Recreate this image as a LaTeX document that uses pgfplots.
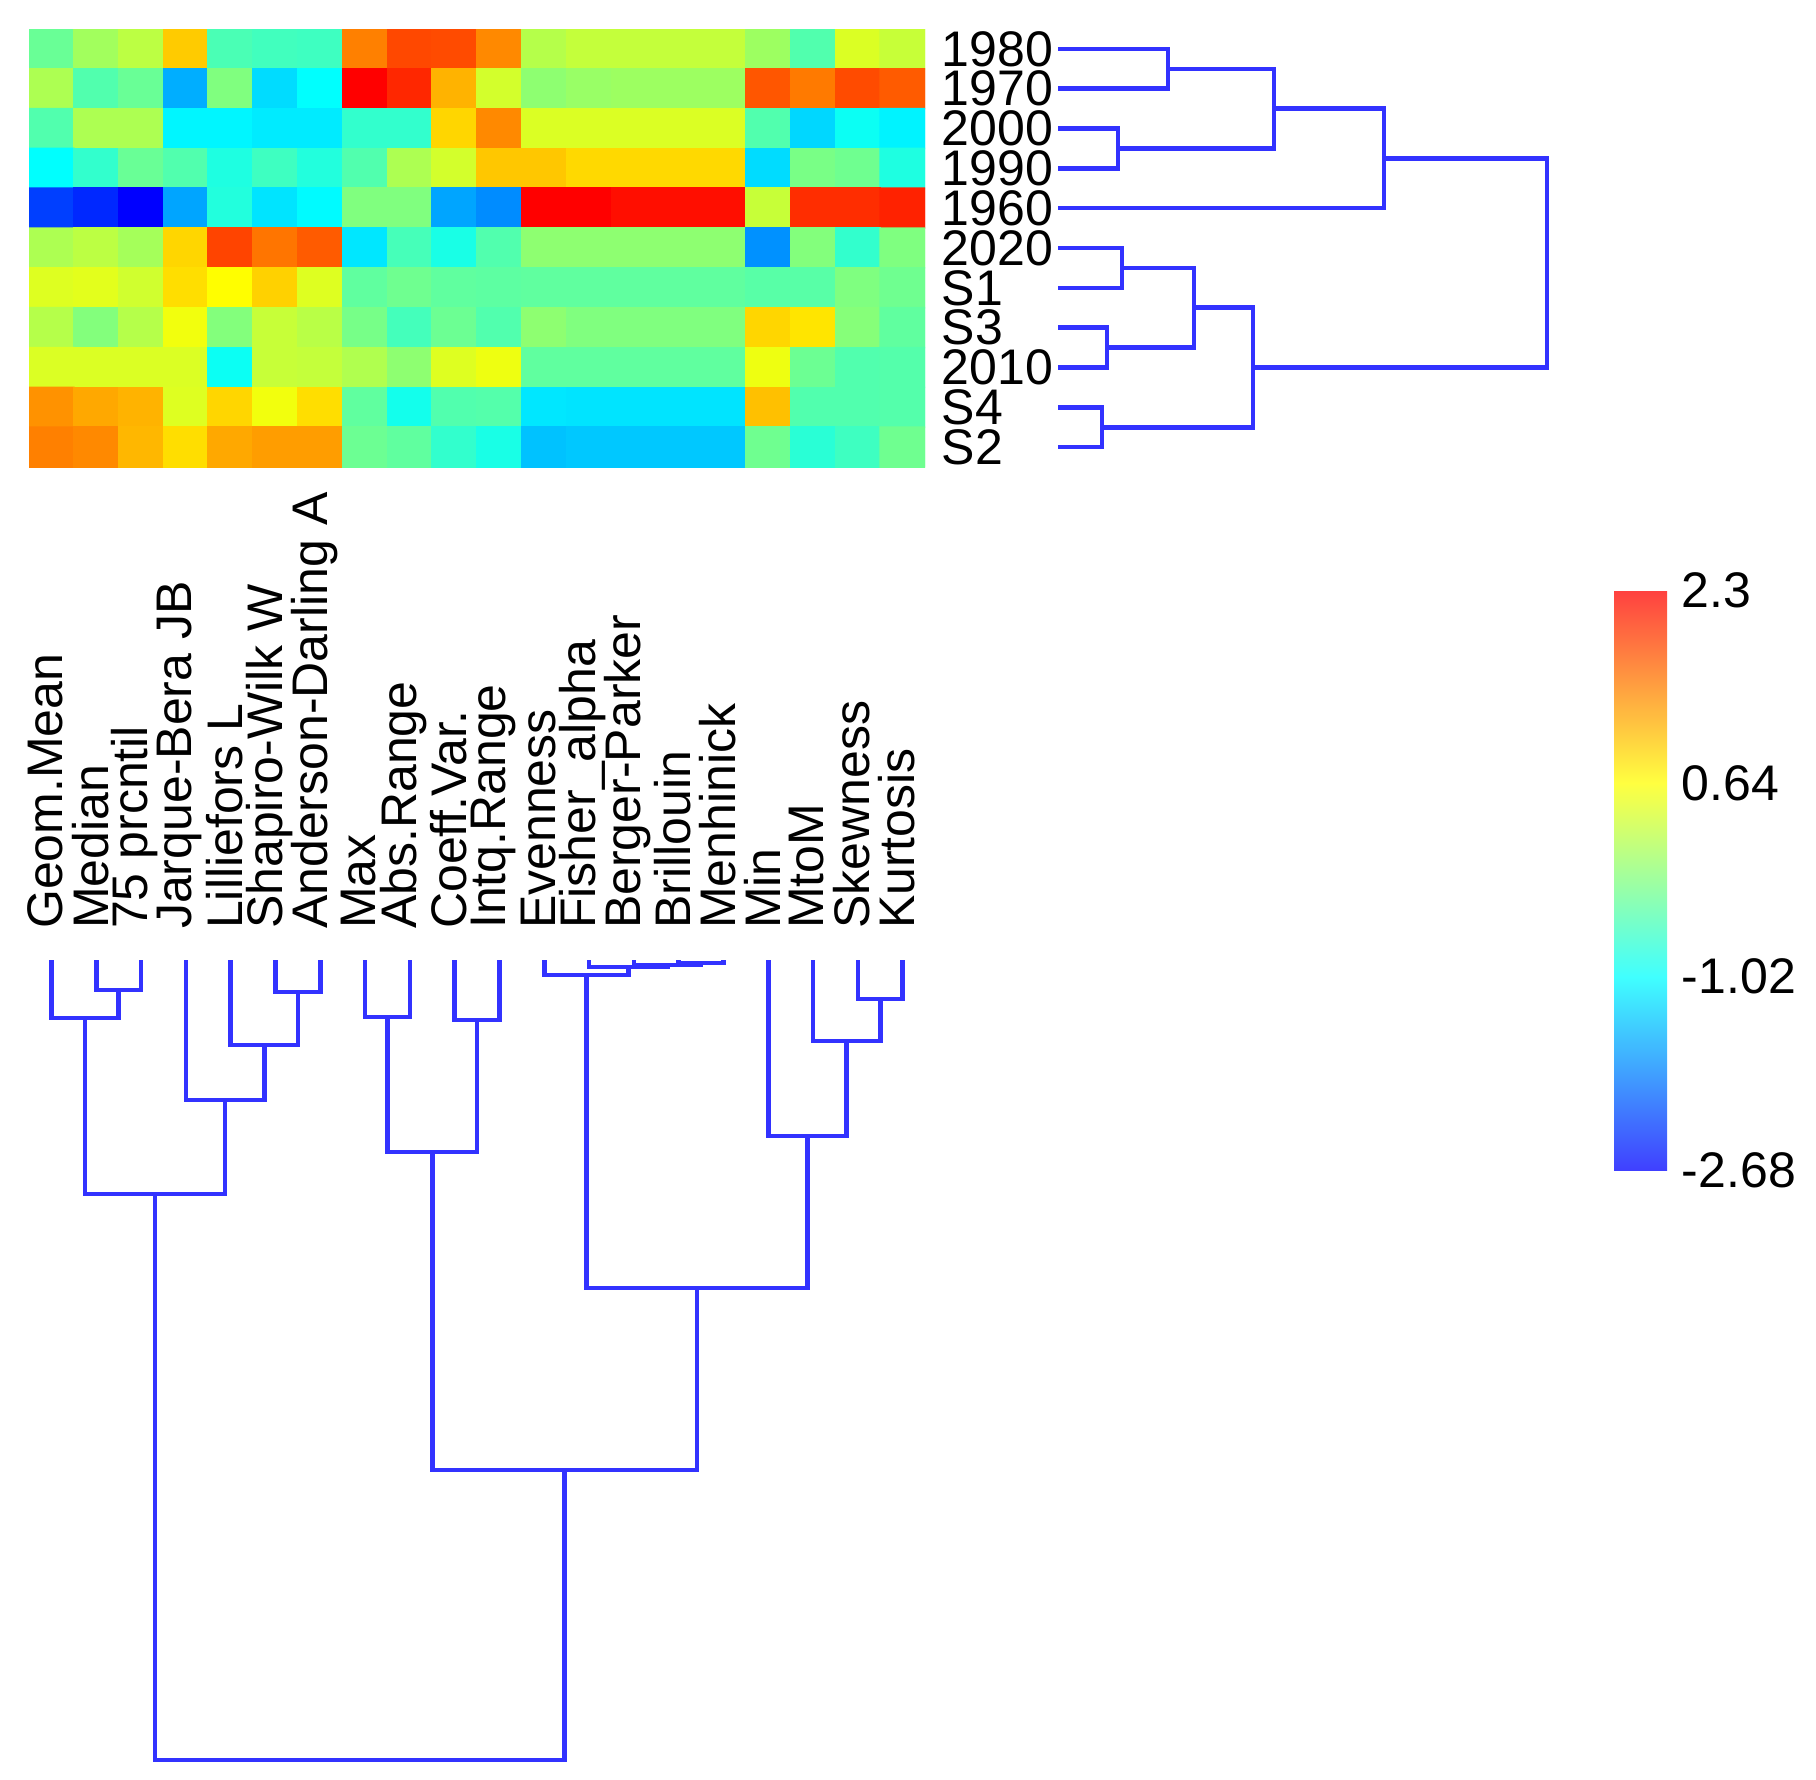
\documentclass[border=0pt]{standalone}
\usepackage{fontspec}
\setmainfont{Liberation Sans}
\usepackage{pgfplots}
\pgfplotsset{compat=1.18}
\newcommand\lab{\fontsize{12.5}{15}\selectfont}
\definecolor{dendro}{RGB}{50,50,255}
\pgfplotsset{dg/.style={draw=dendro, line width=1.15pt, mark=none}}
\begin{document}
\begin{tikzpicture}
\path[use as bounding box] (0,0) rectangle (454pt,-444.75pt);
% heatmap, rows top to bottom, columns left to right
\begin{axis}[at={(7.25pt,-7.25pt)}, anchor=north west, scale only axis,
  width=224pt, height=109.5pt,
  xmin=0.5, xmax=20.5, ymin=0.5, ymax=11.5, y dir=reverse,
  axis line style={draw=none}, tick style={draw=none}, xtick=\empty,
  ytick={1,...,11}, yticklabels={1980,1970,2000,1990,1960,2020,S1,S3,2010,S4,S2},
  yticklabel pos=right, yticklabel style={anchor=west, inner sep=0pt, font=\lab},
  yticklabel shift=4pt,
  colormap={jetish}{rgb255=(0,0,255) rgb255=(0,255,255) rgb255=(255,255,0) rgb255=(255,0,0)},
  point meta min=-2.68, point meta max=2.3]
\addplot[matrix plot*, mesh/cols=20, point meta=explicit] coordinates {
(1,1)[-0.34] (2,1)[0.03] (3,1)[0.20] (4,1)[0.97] (5,1)[-0.54] (6,1)[-0.60] (7,1)[-0.62] (8,1)[1.46] (9,1)[1.82] (10,1)[1.80] (11,1)[1.40] (12,1)[0.15] (13,1)[0.25] (14,1)[0.25] (15,1)[0.25] (16,1)[0.25] (17,1)[0.00] (18,1)[-0.50] (19,1)[0.40] (20,1)[0.27]
(1,2)[0.10] (2,2)[-0.50] (3,2)[-0.34] (4,2)[-1.55] (5,2)[-0.19] (6,2)[-1.25] (7,2)[-1.02] (8,2)[2.30] (9,2)[2.04] (10,2)[1.13] (11,2)[0.35] (12,2)[-0.10] (13,2)[-0.03] (14,2)[0.00] (15,2)[0.00] (16,2)[0.00] (17,2)[1.73] (18,2)[1.50] (19,2)[1.80] (20,2)[1.70]
(1,3)[-0.50] (2,3)[0.10] (3,3)[0.10] (4,3)[-1.08] (5,3)[-1.08] (6,3)[-1.15] (7,3)[-1.15] (8,3)[-0.70] (9,3)[-0.70] (10,3)[0.90] (11,3)[1.40] (12,3)[0.40] (13,3)[0.40] (14,3)[0.40] (15,3)[0.40] (16,3)[0.40] (17,3)[-0.50] (18,3)[-1.28] (19,3)[-0.95] (20,3)[-1.10]
(1,4)[-1.02] (2,4)[-0.70] (3,4)[-0.34] (4,4)[-0.50] (5,4)[-0.83] (6,4)[-0.62] (7,4)[-0.80] (8,4)[-0.50] (9,4)[0.10] (10,4)[0.35] (11,4)[1.00] (12,4)[1.00] (13,4)[0.88] (14,4)[0.88] (15,4)[0.88] (16,4)[0.88] (17,4)[-1.25] (18,4)[-0.24] (19,4)[-0.30] (20,4)[-0.83]
(1,5)[-2.27] (2,5)[-2.42] (3,5)[-2.68] (4,5)[-1.61] (5,5)[-0.80] (6,5)[-1.20] (7,5)[-1.05] (8,5)[-0.19] (9,5)[-0.19] (10,5)[-1.61] (11,5)[-1.77] (12,5)[2.30] (13,5)[2.30] (14,5)[2.20] (15,5)[2.20] (16,5)[2.20] (17,5)[0.27] (18,5)[2.00] (19,5)[2.00] (20,5)[2.07]
(1,6)[0.10] (2,6)[0.20] (3,6)[0.05] (4,6)[0.90] (5,6)[1.85] (6,6)[1.53] (7,6)[1.70] (8,6)[-1.18] (9,6)[-0.57] (10,6)[-0.86] (11,6)[-0.50] (12,6)[-0.10] (13,6)[-0.10] (14,6)[-0.10] (15,6)[-0.10] (16,6)[-0.10] (17,6)[-1.74] (18,6)[-0.17] (19,6)[-0.70] (20,6)[-0.20]
(1,7)[0.42] (2,7)[0.45] (3,7)[0.33] (4,7)[0.85] (5,7)[0.64] (6,7)[0.93] (7,7)[0.42] (8,7)[-0.40] (9,7)[-0.30] (10,7)[-0.40] (11,7)[-0.42] (12,7)[-0.40] (13,7)[-0.40] (14,7)[-0.40] (15,7)[-0.40] (16,7)[-0.40] (17,7)[-0.45] (18,7)[-0.45] (19,7)[-0.20] (20,7)[-0.30]
(1,8)[0.15] (2,8)[-0.17] (3,8)[0.15] (4,8)[0.55] (5,8)[-0.17] (6,8)[0.27] (7,8)[0.18] (8,8)[-0.25] (9,8)[-0.58] (10,8)[-0.32] (11,8)[-0.50] (12,8)[-0.10] (13,8)[-0.19] (14,8)[-0.19] (15,8)[-0.19] (16,8)[-0.19] (17,8)[0.90] (18,8)[0.80] (19,8)[-0.15] (20,8)[-0.40]
(1,9)[0.40] (2,9)[0.40] (3,9)[0.40] (4,9)[0.40] (5,9)[-0.95] (6,9)[0.27] (7,9)[0.25] (8,9)[0.12] (9,9)[-0.10] (10,9)[0.42] (11,9)[0.52] (12,9)[-0.40] (13,9)[-0.40] (14,9)[-0.40] (15,9)[-0.40] (16,9)[-0.40] (17,9)[0.52] (18,9)[-0.32] (19,9)[-0.50] (20,9)[-0.48]
(1,10)[1.34] (2,10)[1.20] (3,10)[1.13] (4,10)[0.42] (5,10)[0.90] (6,10)[0.55] (7,10)[0.85] (8,10)[-0.40] (9,10)[-0.90] (10,10)[-0.50] (11,10)[-0.48] (12,10)[-1.18] (13,10)[-1.20] (14,10)[-1.20] (15,10)[-1.20] (16,10)[-1.20] (17,10)[1.04] (18,10)[-0.50] (19,10)[-0.50] (20,10)[-0.48]
(1,11)[1.46] (2,11)[1.40] (3,11)[1.10] (4,11)[0.85] (5,11)[1.20] (6,11)[1.27] (7,11)[1.27] (8,11)[-0.32] (9,11)[-0.40] (10,11)[-0.70] (11,11)[-0.86] (12,11)[-1.42] (13,11)[-1.38] (14,11)[-1.38] (15,11)[-1.38] (16,11)[-1.38] (17,11)[-0.30] (18,11)[-0.76] (19,11)[-0.62] (20,11)[-0.30]
};
\end{axis}
% row dendrogram
\begin{axis}[at={(264.5pt,-7.25pt)}, anchor=north west, scale only axis,
  width=122.25pt, height=109.5pt, xmin=0, xmax=489, ymin=0.5, ymax=11.5,
  y dir=reverse, hide axis, clip=false]
\addplot[dg] coordinates {(0,1) (110,1) (110,2) (0,2)};
\addplot[dg] coordinates {(0,3) (60,3) (60,4) (0,4)};
\addplot[dg] coordinates {(110,1.5) (216,1.5) (216,3.5) (60,3.5)};
\addplot[dg] coordinates {(216,2.5) (326,2.5) (326,5) (0,5)};
\addplot[dg] coordinates {(0,6) (64,6) (64,7) (0,7)};
\addplot[dg] coordinates {(0,8) (49,8) (49,9) (0,9)};
\addplot[dg] coordinates {(64,6.5) (136,6.5) (136,8.5) (49,8.5)};
\addplot[dg] coordinates {(0,10) (44,10) (44,11) (0,11)};
\addplot[dg] coordinates {(136,7.5) (195,7.5) (195,10.5) (44,10.5)};
\addplot[dg] coordinates {(326,3.75) (489,3.75) (489,9) (195,9)};
\end{axis}
% column dendrogram with labels
\begin{axis}[at={(7.25pt,-240pt)}, anchor=north west, scale only axis,
  width=224pt, height=200pt, xmin=0.5, xmax=20.5, ymin=-800, ymax=0,
  clip=false, axis line style={draw=none}, tick style={draw=none}, ytick=\empty,
  xtick={1,...,20},
  xticklabels={Geom.Mean,Median,75 prcntil,Jarque-Bera JB,Lilliefors L,Shapiro-Wilk W,Anderson-Darling A,Max,Abs.Range,Coeff.Var.,Intq.Range,Evenness,Fisher\_alpha,Berger-Parker,Brillouin,Menhinick,Min,MtoM,Skewness,Kurtosis},
  xticklabel pos=upper, xticklabel style={rotate=90, anchor=west, inner sep=0pt, font=\lab, yshift=1.5pt},
  xticklabel shift=7.6pt]
\addplot[dg] coordinates {(2,0) (2,-30) (3,-30) (3,0)};
\addplot[dg] coordinates {(1,0) (1,-58) (2.5,-58) (2.5,-30)};
\addplot[dg] coordinates {(6,0) (6,-32) (7,-32) (7,0)};
\addplot[dg] coordinates {(5,0) (5,-85) (6.5,-85) (6.5,-32)};
\addplot[dg] coordinates {(4,0) (4,-140) (5.75,-140) (5.75,-85)};
\addplot[dg] coordinates {(1.75,-58) (1.75,-234) (4.875,-234) (4.875,-140)};
\addplot[dg] coordinates {(8,0) (8,-57) (9,-57) (9,0)};
\addplot[dg] coordinates {(10,0) (10,-60) (11,-60) (11,0)};
\addplot[dg] coordinates {(8.5,-57) (8.5,-192) (10.5,-192) (10.5,-60)};
\addplot[dg] coordinates {(15,0) (15,-3) (16,-3) (16,0)};
\addplot[dg] coordinates {(14,0) (14,-5) (15.5,-5) (15.5,-3)};
\addplot[dg] coordinates {(13,0) (13,-7) (14.75,-7) (14.75,-5)};
\addplot[dg] coordinates {(12,0) (12,-15) (13.875,-15) (13.875,-7)};
\addplot[dg] coordinates {(19,0) (19,-39) (20,-39) (20,0)};
\addplot[dg] coordinates {(18,0) (18,-81) (19.5,-81) (19.5,-39)};
\addplot[dg] coordinates {(17,0) (17,-176) (18.75,-176) (18.75,-81)};
\addplot[dg] coordinates {(12.9375,-15) (12.9375,-328) (17.875,-328) (17.875,-176)};
\addplot[dg] coordinates {(9.5,-192) (9.5,-510) (15.40625,-510) (15.40625,-328)};
\addplot[dg] coordinates {(3.3125,-234) (3.3125,-800) (12.453125,-800) (12.453125,-510)};
\end{axis}
% colour scale
\begin{axis}[at={(395pt,-147.5pt)}, anchor=north west, scale only axis,
  width=13.25pt, height=145pt, hide axis,
  colormap={cb}{rgb255=(64,64,255) rgb255=(64,255,255) rgb255=(255,255,64) rgb255=(255,64,64)},
  point meta min=-2.68, point meta max=2.3, colorbar,
  colorbar style={at={(parent axis.north west)}, anchor=north west,
    width=13.25pt, ytick={-2.68,-1.02,0.64,2.3}, yticklabels={-2.68,-1.02,0.64,2.3},
    axis line style={draw=none}, tick style={draw=none},
    yticklabel style={font=\lab, inner sep=0pt}, yticklabel shift=3.5pt}]
\addplot[draw=none] coordinates {(0,0)};
\end{axis}
\end{tikzpicture}
\end{document}
